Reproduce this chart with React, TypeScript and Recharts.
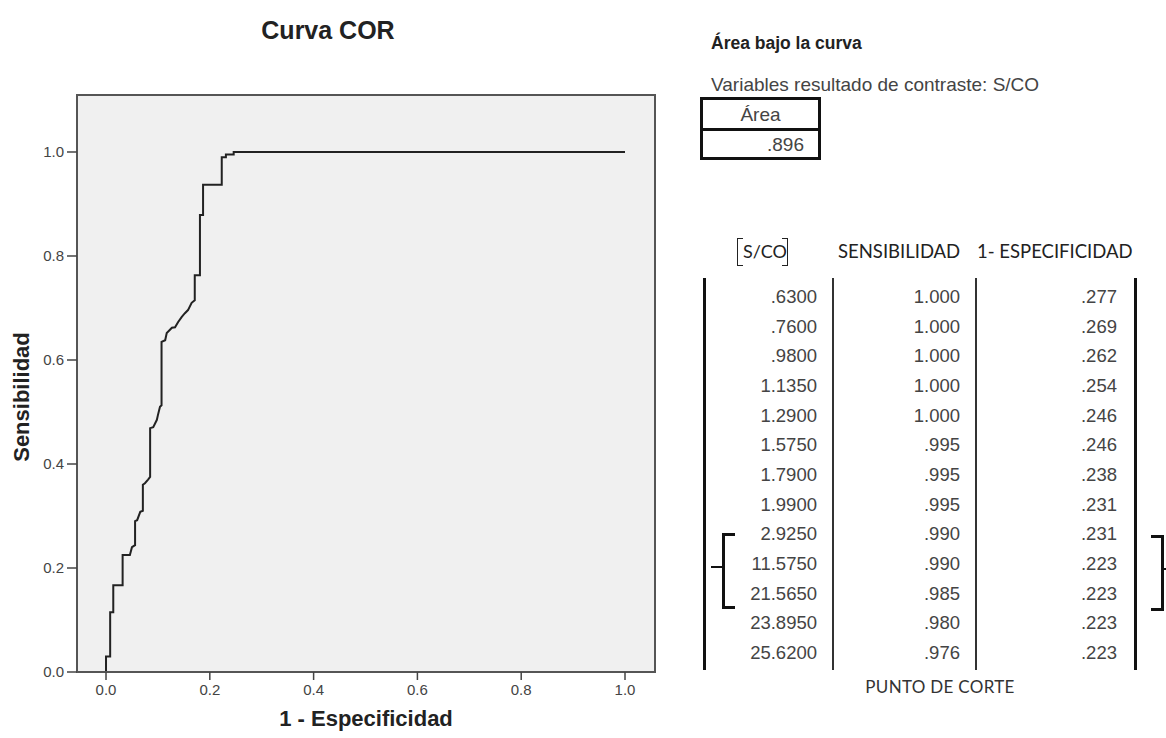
import React from 'react';
import { LineChart, Line, XAxis, YAxis, ReferenceArea } from 'recharts';

// ROC curve coordinates (1 - specificity, sensitivity)
const fpr = [
  0, 0, 0.008, 0.008, 0.014, 0.014, 0.032, 0.032, 0.046, 0.05, 0.056, 0.056,
  0.06, 0.066, 0.071, 0.071, 0.075, 0.081, 0.085, 0.085, 0.091, 0.098, 0.1,
  0.104, 0.107, 0.107, 0.114, 0.117, 0.127, 0.133, 0.139, 0.146, 0.152, 0.158,
  0.165, 0.171, 0.171, 0.181, 0.181, 0.187, 0.187, 0.223, 0.223, 0.223, 0.231,
  0.231, 0.246, 0.246, 1.0,
];
const tpr = [
  0, 0.03, 0.03, 0.115, 0.115, 0.167, 0.167, 0.225, 0.225, 0.24, 0.244, 0.29,
  0.292, 0.308, 0.31, 0.36, 0.363, 0.37, 0.375, 0.469, 0.471, 0.485, 0.494,
  0.51, 0.513, 0.635, 0.638, 0.652, 0.662, 0.663, 0.673, 0.683, 0.69, 0.696,
  0.71, 0.715, 0.763, 0.763, 0.879, 0.879, 0.937, 0.937, 0.976, 0.99, 0.99,
  0.995, 0.995, 1.0, 1.0,
];
const axisTicks = [0, 0.2, 0.4, 0.6, 0.8, 1.0];

// Area under the curve
const areaValue = '.896';

// Cut-off table
const cutoffs = [
  '.6300', '.7600', '.9800', '1.1350', '1.2900', '1.5750', '1.7900', '1.9900',
  '2.9250', '11.5750', '21.5650', '23.8950', '25.6200',
];
const sensitivity = [
  '1.000', '1.000', '1.000', '1.000', '1.000', '.995', '.995', '.995', '.990',
  '.990', '.985', '.980', '.976',
];
const oneMinusSpec = [
  '.277', '.269', '.262', '.254', '.246', '.246', '.238', '.231', '.231',
  '.223', '.223', '.223', '.223',
];

const rocPoints = fpr.map((x, i) => ({ x, y: tpr[i] }));

const X_MIN = -0.0559;
const X_MAX = 1.0578;
const Y_MIN = 0;
const Y_MAX = 1.1096;

const ARIAL = "'Liberation Sans', Arial, sans-serif";
const CAL = "Lato, 'Open Sans', sans-serif";

const ROW_TOP = 297;
const ROW_STEP = 29.67;

const abs = (left: number, top: number, extra: React.CSSProperties = {}): React.CSSProperties => ({
  position: 'absolute',
  left,
  top,
  whiteSpace: 'nowrap',
  ...extra,
});

const cellStyle = (left: number, i: number): React.CSSProperties =>
  abs(left, ROW_TOP + i * ROW_STEP - 11, {
    width: 120,
    textAlign: 'right',
    fontFamily: ARIAL,
    fontSize: 18.5,
    lineHeight: '22px',
    color: '#444',
  });

// Tick labels for the horizontal axis
const XTick = (props: any) => {
  const { x, y, payload } = props;
  return (
    <text x={x} y={y + 13} textAnchor="middle" fontFamily={ARIAL} fontSize={15} fill="#444">
      {Number(payload.value).toFixed(1)}
    </text>
  );
};

// Tick labels for the vertical axis
const YTick = (props: any) => {
  const { x, y, payload } = props;
  return (
    <text x={x - 1} y={y + 5} textAnchor="end" fontFamily={ARIAL} fontSize={15} fill="#444">
      {Number(payload.value).toFixed(1)}
    </text>
  );
};

export default function App() {
  return (
    <div
      style={{
        position: 'absolute',
        left: 0,
        top: 0,
        width: 1166,
        height: 738,
        background: '#ffffff',
        overflow: 'hidden',
      }}
    >
      <LineChart
        width={660}
        height={738}
        data={rocPoints}
        margin={{ top: 95, right: 5, left: 0, bottom: 36 }}
      >
        <ReferenceArea
          x1={X_MIN}
          x2={X_MAX}
          y1={Y_MIN}
          y2={Y_MAX}
          fill="#f0f0f0"
          fillOpacity={1}
          stroke="#555"
          strokeWidth={2}
          ifOverflow="visible"
        />
        <XAxis
          type="number"
          dataKey="x"
          domain={[X_MIN, X_MAX]}
          ticks={axisTicks}
          allowDataOverflow
          height={30}
          tickSize={8}
          tick={<XTick />}
          tickLine={{ stroke: '#444', strokeWidth: 1.5 }}
          axisLine={{ stroke: '#555', strokeWidth: 2 }}
        />
        <YAxis
          type="number"
          dataKey="y"
          domain={[Y_MIN, Y_MAX]}
          ticks={axisTicks}
          allowDataOverflow
          width={77}
          tickSize={10}
          tick={<YTick />}
          tickLine={{ stroke: '#444', strokeWidth: 1.5 }}
          axisLine={{ stroke: '#555', strokeWidth: 2 }}
        />
        <Line
          type="linear"
          dataKey="y"
          stroke="#222"
          strokeWidth={2}
          dot={false}
          activeDot={false}
          isAnimationActive={false}
        />
      </LineChart>

      {/* chart title and axis titles */}
      <div
        style={abs(178, 16, {
          width: 300,
          textAlign: 'center',
          fontFamily: ARIAL,
          fontWeight: 'bold',
          fontSize: 25,
          color: '#222',
        })}
      >
        Curva COR
      </div>
      <div
        style={abs(216, 706, {
          width: 300,
          textAlign: 'center',
          fontFamily: ARIAL,
          fontWeight: 'bold',
          fontSize: 22,
          color: '#222',
        })}
      >
        1 - Especificidad
      </div>
      <div
        style={abs(-78, 384, {
          width: 200,
          textAlign: 'center',
          fontFamily: ARIAL,
          fontWeight: 'bold',
          fontSize: 22,
          color: '#222',
          transform: 'rotate(-90deg)',
        })}
      >
        Sensibilidad
      </div>

      {/* area under the curve */}
      <div style={abs(711, 33, { fontFamily: ARIAL, fontWeight: 'bold', fontSize: 17.5, color: '#222' })}>
        Área bajo la curva
      </div>
      <div style={abs(711, 74, { fontFamily: ARIAL, fontSize: 19, color: '#444' })}>
        Variables resultado de contraste: S/CO
      </div>
      <div
        style={abs(700, 97, {
          width: 121,
          height: 63,
          boxSizing: 'border-box',
          border: '3px solid #111',
          fontFamily: ARIAL,
          fontSize: 19,
          color: '#444',
        })}
      >
        <div
          style={{
            height: 28,
            borderBottom: '3px solid #111',
            textAlign: 'center',
            lineHeight: '30px',
          }}
        >
          Área
        </div>
        <div style={{ height: 26, lineHeight: '28px', textAlign: 'right', paddingRight: 14 }}>{areaValue}</div>
      </div>

      {/* cut-off table headers */}
      <div style={abs(743, 240, { fontFamily: CAL, fontSize: 18, color: '#222' })}>S/CO</div>
      <div style={abs(737, 238, { width: 5, height: 26, borderLeft: '1.5px solid #222', borderTop: '1.5px solid #222', borderBottom: '1.5px solid #222' })} />
      <div style={abs(782, 238, { width: 5, height: 26, borderRight: '1.5px solid #222', borderTop: '1.5px solid #222', borderBottom: '1.5px solid #222' })} />
      <div style={abs(838, 240, { fontFamily: CAL, fontSize: 18.5, color: '#222' })}>SENSIBILIDAD</div>
      <div style={abs(977, 240, { fontFamily: CAL, fontSize: 18.5, color: '#222' })}>1- ESPECIFICIDAD</div>

      {/* column rules */}
      <div style={abs(703, 278, { width: 3, height: 392, background: '#111' })} />
      <div style={abs(832, 278, { width: 2, height: 392, background: '#333' })} />
      <div style={abs(975, 278, { width: 2, height: 392, background: '#333' })} />
      <div style={abs(1134, 278, { width: 3, height: 392, background: '#111' })} />

      {/* table rows */}
      {cutoffs.map((c, i) => (
        <React.Fragment key={c}>
          <div style={cellStyle(697, i)}>{c}</div>
          <div style={cellStyle(840, i)}>{sensitivity[i]}</div>
          <div style={cellStyle(997, i)}>{oneMinusSpec[i]}</div>
        </React.Fragment>
      ))}

      {/* brackets around the chosen cut-off rows */}
      <div style={abs(722, 533, { width: 10, height: 70, borderLeft: '3px solid #111', borderTop: '3px solid #111', borderBottom: '3px solid #111' })} />
      <div style={abs(711, 566, { width: 12, height: 2, background: '#111' })} />
      <div style={abs(1151, 535, { width: 10, height: 70, borderRight: '3px solid #111', borderTop: '3px solid #111', borderBottom: '3px solid #111' })} />
      <div style={abs(1162, 568, { width: 6, height: 2, background: '#111' })} />

      <div style={abs(850, 676, { width: 180, textAlign: 'center', fontFamily: CAL, fontSize: 17, color: '#333', letterSpacing: 0.3 })}>
        PUNTO DE CORTE
      </div>
    </div>
  );
}
